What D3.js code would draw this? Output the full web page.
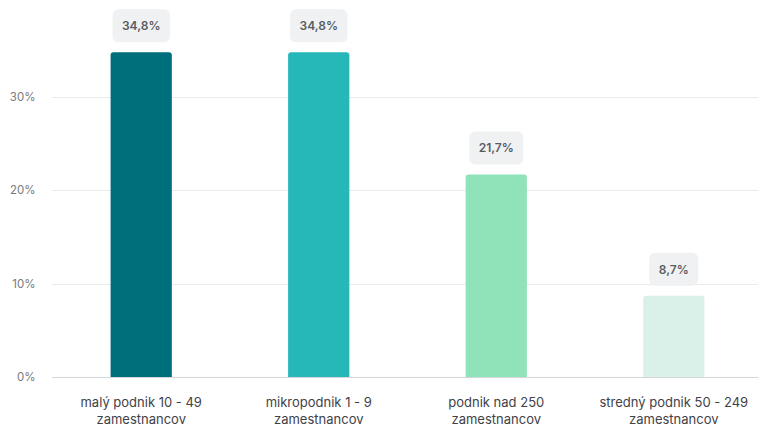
<!DOCTYPE html>
<html>
<head>
<meta charset="utf-8">
<script src="https://cdn.jsdelivr.net/npm/d3@7"></script>
<style>
  html, body { margin: 0; padding: 0; background: #fff; }
  svg { display: block; font-family: Inter, "Noto Sans", sans-serif; }
</style>
</head>
<body>
<svg id="chart" width="758" height="425"></svg>
<script>
// Share of companies by size category (percent)
const categories = [
  ["malý podnik 10 - 49", "zamestnancov"],
  ["mikropodnik 1 - 9", "zamestnancov"],
  ["podnik nad 250", "zamestnancov"],
  ["stredný podnik 50 - 249", "zamestnancov"]
];
const values = [34.8, 34.8, 21.7, 8.7];
const valueLabels = ["34,8%", "34,8%", "21,7%", "8,7%"];
const barColors = ["#006f7c", "#26b7b8", "#90e3b9", "#daf1e9"];
const yTicks = [0, 10, 20, 30];
const yTickLabels = ["0%", "10%", "20%", "30%"];

const svg = d3.select("#chart");
const width = 758;

const x = d3.scaleBand()
  .domain(d3.range(categories.length))
  .range([52, 763])
  .paddingInner(0.655)
  .paddingOuter(0.33);

const y = d3.scaleLinear()
  .domain([0, 30])
  .range([377, 97]);

// Gridlines
svg.append("g")
  .selectAll("line")
  .data(yTicks)
  .join("line")
  .attr("x1", 52)
  .attr("x2", width)
  .attr("y1", d => Math.round(y(d)) + 0.5)
  .attr("y2", d => Math.round(y(d)) + 0.5)
  .attr("stroke", d => d === 0 ? "#d3d6da" : "#ebebeb")
  .attr("stroke-width", 1);

// Y axis labels
svg.append("g")
  .selectAll("text")
  .data(yTicks)
  .join("text")
  .attr("x", 35.5)
  .attr("y", d => y(d))
  .attr("dy", "0.35em")
  .attr("text-anchor", "end")
  .attr("font-size", 11.5)
  .attr("fill", "#7a7a7a")
  .text((d, i) => yTickLabels[i]);

// Bars with rounded top corners
function topRoundedRect(x0, y0, w, h, r) {
  return `M${x0},${y0 + h}V${y0 + r}Q${x0},${y0} ${x0 + r},${y0}H${x0 + w - r}Q${x0 + w},${y0} ${x0 + w},${y0 + r}V${y0 + h}Z`;
}

svg.append("g")
  .selectAll("path")
  .data(values)
  .join("path")
  .attr("d", (d, i) => topRoundedRect(x(i), y(d), x.bandwidth(), y(0) - y(d), 3))
  .attr("fill", (d, i) => barColors[i]);

// Value labels in rounded boxes
const labels = svg.append("g")
  .selectAll("g")
  .data(values)
  .join("g")
  .attr("transform", (d, i) => `translate(${x(i) + x.bandwidth() / 2},${y(d) - 10})`);

labels.append("text")
  .attr("class", "val")
  .attr("x", 0)
  .attr("y", -16.5)
  .attr("dy", "0.35em")
  .attr("text-anchor", "middle")
  .attr("font-size", 12)
  .attr("font-weight", 600)
  .attr("fill", "#585c63")
  .text((d, i) => valueLabels[i]);

labels.each(function() {
  const g = d3.select(this);
  const t = g.select("text").node().getBBox();
  g.insert("rect", "text")
    .attr("x", t.x - 9.5)
    .attr("y", -33)
    .attr("width", t.width + 19)
    .attr("height", 33)
    .attr("rx", 6)
    .attr("fill", "#f0f1f2");
});

// Category labels (two lines)
const cat = svg.append("g")
  .selectAll("text")
  .data(categories)
  .join("text")
  .attr("x", (d, i) => x(i) + x.bandwidth() / 2)
  .attr("y", 407)
  .attr("text-anchor", "middle")
  .attr("font-size", 13)
  .attr("fill", "#3f4247");

cat.selectAll("tspan")
  .data(d => d)
  .join("tspan")
  .attr("x", function() { return this.parentNode.getAttribute("x"); })
  .attr("dy", (d, i) => i === 0 ? 0 : 17)
  .text(d => d);
</script>
</body>
</html>
